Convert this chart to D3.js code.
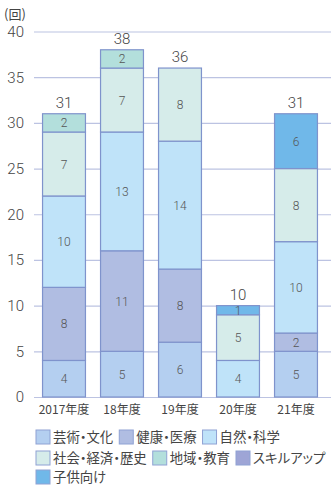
<!DOCTYPE html>
<html>
<head>
<meta charset="utf-8">
<script src="https://cdn.jsdelivr.net/npm/d3@7"></script>
<style>
  html, body { margin: 0; padding: 0; background: #fff; }
  svg { display: block; font-family: "Noto Sans CJK JP", "Noto Sans", sans-serif; }
  .legend text { font-feature-settings: "palt"; }
</style>
</head>
<body>
<svg id="chart" width="331" height="485"></svg>
<script>
// 年度別・分野別の開催回数
const years = ["2017年度", "18年度", "19年度", "20年度", "21年度"];
const fields = ["芸術・文化", "健康・医療", "自然・科学", "社会・経済・歴史", "地域・教育", "スキルアップ", "子供向け"];
const arts     = [4, 5, 6, 0, 5];
const health   = [8, 11, 8, 0, 2];
const science  = [10, 13, 14, 4, 10];
const society  = [7, 7, 8, 5, 8];
const region   = [2, 2, 0, 0, 0];
const skills   = [0, 0, 0, 0, 0];
const kids     = [0, 0, 0, 1, 6];
const yTicks = [0, 5, 10, 15, 20, 25, 30, 35, 40];
const colors = ["#b4cff0", "#b0bde2", "#bfe3f9", "#d6ecea", "#b3dfdc", "#9ea5d6", "#70b8e9"];

const seriesValues = [arts, health, science, society, region, skills, kids];
const table = years.map((y, i) => {
  const row = { year: y };
  fields.forEach((f, k) => { row[f] = seriesValues[k][i]; });
  return row;
});

const svg = d3.select("#chart");
const x = d3.scaleBand().domain(years).range([35, 325]).paddingInner(0.26).paddingOuter(0.13);
const y = d3.scaleLinear().domain([0, 40]).range([397, 31.5]);

// grid lines + y tick labels
const yAxis = d3.axisLeft(y).tickValues(yTicks).tickSize(-(331 - 34)).tickPadding(10);
const ga = svg.append("g").attr("transform", "translate(34,0)").call(yAxis);
ga.select(".domain").remove();
ga.selectAll(".tick line").attr("stroke", "#bcc3e2").attr("stroke-width", 1.2);
ga.selectAll(".tick text").attr("fill", "#444").attr("font-size", 15).attr("font-family", "Roboto, 'Noto Sans', sans-serif").attr("font-weight", 300);

svg.append("text").attr("x", 4).attr("y", 19).attr("font-size", 13).attr("fill", "#444").text("(回)");

const stack = d3.stack().keys(fields)(table);

const layers = svg.append("g").selectAll("g").data(stack).join("g")
  .attr("fill", (d, i) => colors[i]);

layers.selectAll("rect").data(d => d.map(p => ({ p, key: d.key })))
  .join("rect")
  .filter(d => d.p[1] - d.p[0] > 0)
  .attr("x", d => x(d.p.data.year))
  .attr("width", x.bandwidth())
  .attr("y", d => y(d.p[1]))
  .attr("height", d => y(d.p[0]) - y(d.p[1]))
  .attr("stroke", "#7f93cc")
  .attr("stroke-width", 1.2);

// segment value labels
layers.selectAll("text").data(d => d.filter(p => p[1] - p[0] > 0))
  .join("text")
  .attr("x", p => x(p.data.year) + x.bandwidth() / 2)
  .attr("y", p => (y(p[0]) + y(p[1])) / 2)
  .attr("dy", "0.38em")
  .attr("text-anchor", "middle")
  .attr("font-size", 12)
  .attr("font-family", "Roboto, 'Noto Sans', sans-serif")
  .attr("font-weight", 300)
  .attr("fill", "#555")
  .text(p => p[1] - p[0]);

// totals
svg.append("g").selectAll("text").data(table).join("text")
  .attr("x", d => x(d.year) + x.bandwidth() / 2)
  .attr("y", d => y(d3.sum(fields, f => d[f])) - 6)
  .attr("text-anchor", "middle")
  .attr("font-size", 15)
  .attr("font-family", "Roboto, 'Noto Sans', sans-serif")
  .attr("font-weight", 300)
  .attr("fill", "#444")
  .text(d => d3.sum(fields, f => d[f]));

// x axis labels
const xAxis = d3.axisBottom(x).tickSize(0).tickPadding(8);
const gx = svg.append("g").attr("transform", "translate(0,397)").call(xAxis);
gx.select(".domain").remove();
gx.selectAll(".tick text").attr("fill", "#444").attr("font-size", 12)
  .attr("font-family", "'Noto Sans CJK JP', sans-serif");

// legend (flowing rows)
const legendRows = [[0, 1, 2], [3, 4, 5], [6]];
const rowY = [437, 458, 477];
const lg = svg.append("g").attr("class", "legend");
legendRows.forEach((row, r) => {
  let cx = 36;
  row.forEach(k => {
    const item = lg.append("g").attr("transform", `translate(${cx},${rowY[r]})`);
    item.append("rect").attr("x", 0).attr("y", -7).attr("width", 14).attr("height", 14)
      .attr("fill", colors[k]).attr("stroke", "#8fa2d4").attr("stroke-width", 1);
    const t = item.append("text").attr("x", 17).attr("dy", "0.36em")
      .attr("font-size", 13.4).attr("fill", "#444").text(fields[k]);
    cx += 17 + t.node().getComputedTextLength() + 6;
  });
});
</script>
</body>
</html>
